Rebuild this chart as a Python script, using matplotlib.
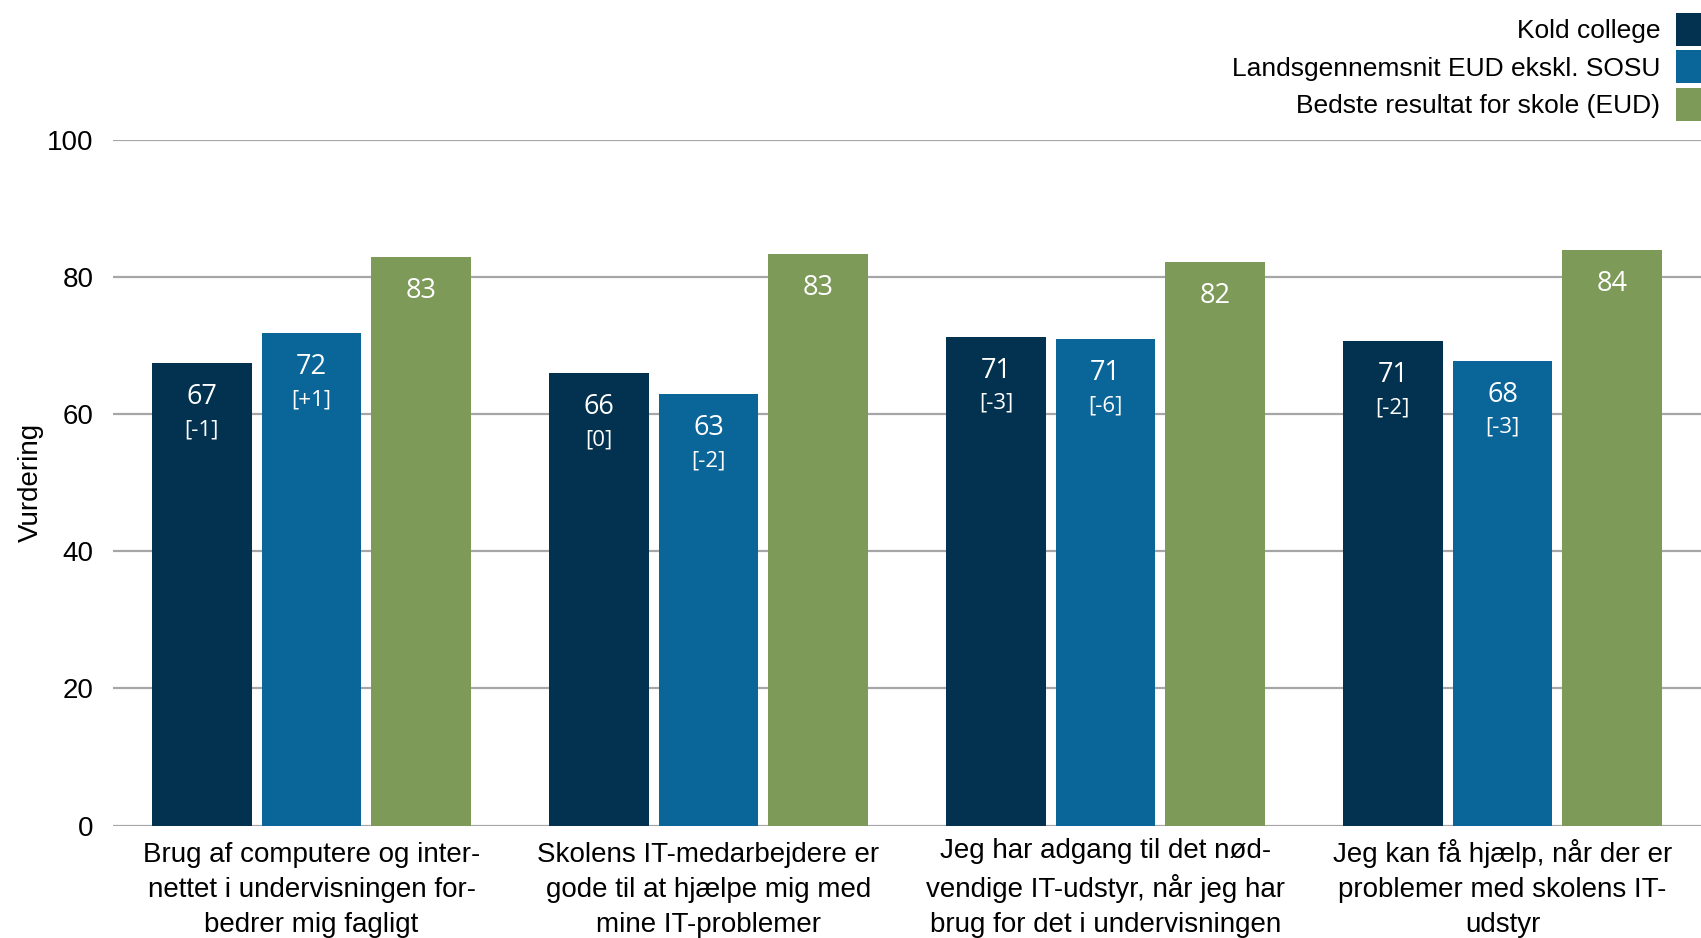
import numpy as np
import matplotlib
matplotlib.use('agg')
import matplotlib.pyplot as plt
from matplotlib.container import BarContainer
from matplotlib.legend_handler import HandlerPatch

# data
categories = [
    "Brug af computere og inter-\nnettet i undervisningen for-\nbedrer mig fagligt",
    "Skolens IT-medarbejdere er\ngode til at hjælpe mig med\nmine IT-problemer",
    "Jeg har adgang til det nød-\nvendige IT-udstyr, når jeg har\nbrug for det i undervisningen",
    "Jeg kan få hjælp, når der er\nproblemer med skolens IT-\nudstyr",
]
series_names = ["Kold college", "Landsgennemsnit EUD ekskl. SOSU", "Bedste resultat for skole (EUD)"]
kold = [67.4, 66.0, 71.3, 70.7]
kold_diff = ["[-1]", "[0]", "[-3]", "[-2]"]
lands = [71.8, 62.9, 71.0, 67.8]
lands_diff = ["[+1]", "[-2]", "[-6]", "[-3]"]
best = [82.9, 83.4, 82.2, 83.9]
yticks = [0, 20, 40, 60, 80, 100]

colors = ["#02324f", "#0a6599", "#7e9a59"]
txt_font = "Liberation Sans"
lab_font = "Open Sans"

fig = plt.figure(figsize=(17.01, 9.38), dpi=100)
ax = fig.add_axes([113 / 1701, 1 - 825.5 / 938, 1 - 113 / 1701, (825.5 - 140) / 938])

x = np.arange(len(categories))
step = 0.276
width = 0.251
all_series = [kold, lands, best]
all_diffs = [kold_diff, lands_diff, None]

for i, (vals, name) in enumerate(zip(all_series, series_names)):
    xs = x + (i - 1) * step
    bars = ax.bar(xs, vals, width=width, color=colors[i], label=name, zorder=3)
    for j, b in enumerate(bars):
        h = b.get_height()
        ax.annotate(f"{h:.0f}", (b.get_x() + b.get_width() / 2, h),
                    xytext=(0, -29.5), textcoords="offset points",
                    ha="center", va="baseline", color="white",
                    fontsize=19.5, family=lab_font, zorder=4)
        if all_diffs[i] is not None:
            ax.annotate(all_diffs[i][j], (b.get_x() + b.get_width() / 2, h),
                        xytext=(0, -52), textcoords="offset points",
                        ha="center", va="baseline", color="white",
                        fontsize=16, family=lab_font, zorder=4)

ax.set_xlim(-0.5, 3.5)
ax.set_ylim(0, 100)
ax.set_yticks(yticks)
ax.set_yticklabels([str(t) for t in yticks], family=txt_font, fontsize=20)
ax.set_xticks(x)
# all labels have three lines, so anchoring at the last baseline keeps them level
ax.set_xticklabels(categories, family=txt_font, fontsize=20, linespacing=1.45,
                   va="baseline")
ax.tick_params(axis="both", length=0)
ax.tick_params(axis="y", pad=14)
ax.tick_params(axis="x", pad=76.7)
for s in ax.spines.values():
    s.set_visible(False)
ax.yaxis.grid(True, color="#a6a6a6", linewidth=1.6, zorder=0)
ax.set_ylabel("Vurdering", family=txt_font, fontsize=20)
ax.yaxis.set_label_coords(-0.052, 0.5)
ax.yaxis.label.set_verticalalignment("center")

# square legend handles with no vertical padding
square = HandlerPatch(ypad=0, update_func=lambda h, o: h.update_from(o.patches[0]))
leg = ax.legend(loc="upper right", bbox_to_anchor=(1709 / 1701, 1 - 13 / 938),
                bbox_transform=fig.transFigure, markerfirst=False, frameon=False,
                prop={"family": txt_font, "size": 19},
                handler_map={BarContainer: square},
                handlelength=1.25, handleheight=1.546, handletextpad=0.6,
                labelspacing=0.167, borderpad=0, borderaxespad=0)
for t in leg.get_texts():
    t.set_ha("right")

fig.savefig("out.png", dpi=100)
